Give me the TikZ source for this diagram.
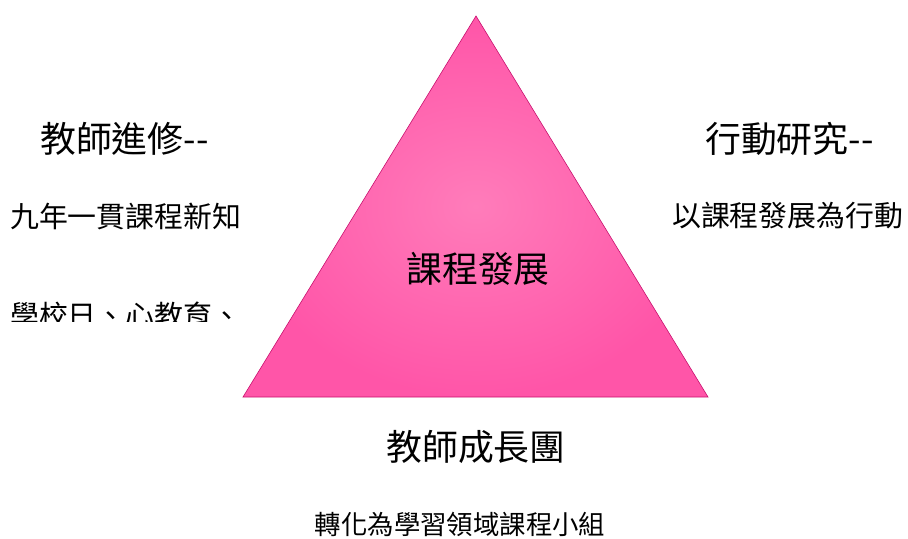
\documentclass[tikz,border=0pt]{standalone}
\usepackage{fontspec}
\newfontfamily\cjk{Noto Sans CJK TC}
\definecolor{pinkedge}{HTML}{FF55A8}
\definecolor{pinkmid}{HTML}{FF7CBA}
\definecolor{pinkline}{HTML}{C8106E}
\begin{document}
\begin{tikzpicture}[x=1bp, y=-1bp,
    bigtext/.style={inner sep=0pt, font=\cjk\fontsize{36}{40}\selectfont},
    smalltext/.style={inner sep=0pt, font=\cjk\fontsize{29}{33}\selectfont},
    subtext/.style={inner sep=0pt, font=\cjk\fontsize{26.5}{30}\selectfont}]

    % page
    \useasboundingbox (0,0) rectangle (908,539);

    % triangle
    \coordinate (apex) at (476,16);
    \coordinate (left) at (243,397);
    \coordinate (right) at (708,397);
    \shade [inner color=pinkmid, outer color=pinkedge, draw=pinkline, line width=0.6bp]
        (apex) -- (left) -- (right) -- cycle;
    \node [bigtext] (core) at (478,269) {課程發展};

    % left side
    \node [bigtext, anchor=west] (study) at (40,139) {教師進修--};
    \node [smalltext, anchor=west] (newknow) at (10,216) {九年一貫課程新知};
    \begin{scope}
        \clip (0,280) rectangle (260,322);
        \node [smalltext, anchor=west] (school) at (10,315) {學校日、心教育、};
    \end{scope}

    % right side
    \node [bigtext, anchor=west] (action) at (705,139) {行動研究--};
    \node [smalltext, anchor=west] (asaction) at (672,216) {以課程發展為行動};

    % bottom
    \node [bigtext] (growth) at (476,447) {教師成長團};
    \node [subtext] (team) at (460,524) {轉化為學習領域課程小組};

\end{tikzpicture}
\end{document}
